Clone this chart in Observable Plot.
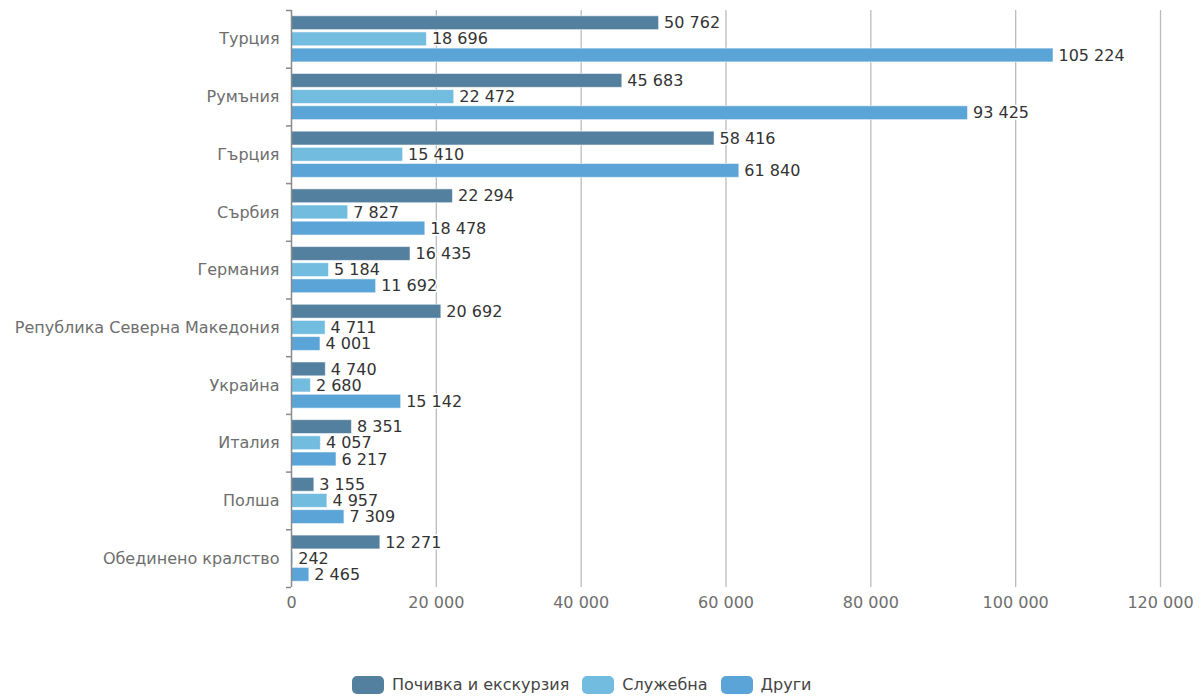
<!DOCTYPE html>
<html><head><meta charset="utf-8">
<script src="https://cdn.jsdelivr.net/npm/d3@7"></script>
<script src="https://cdn.jsdelivr.net/npm/@observablehq/plot@0.6"></script>
<style>
body{margin:0;background:#fff;font-family:"DejaVu Sans",sans-serif;}
#wrap{position:relative;width:1203px;height:699px;}
#legend{position:absolute;left:352px;top:675px;display:flex;align-items:center;font-size:16px;color:#444;white-space:nowrap;}
.item{display:flex;align-items:center;margin-right:13px;}
.sw{width:32px;height:18px;border-radius:5px;margin-right:8px;}
</style></head>
<body><div id="wrap"><div id="chart"></div><div id="legend"></div></div>
<script>
const countries = ["Турция","Румъния","Гърция","Сърбия","Германия","Република Северна Македония","Украйна","Италия","Полша","Обединено кралство"];
const seriesNames = ["Почивка и екскурзия","Служебна","Други"];
const leisure = [50762,45683,58416,22294,16435,20692,4740,8351,3155,12271];
const business = [18696,22472,15410,7827,5184,4711,2680,4057,4957,242];
const other = [105224,93425,61840,18478,11692,4001,15142,6217,7309,2465];
const xTicks = [0,20000,40000,60000,80000,100000,120000];
const colors = ["#54809f","#72bce0","#5aa4d7"];

const fmt = d3.formatLocale({thousands:"\u00a0", grouping:[3], decimal:","}).format(",d");
const values = [leisure, business, other];
const pad = 0.1, bh = 0.24, gap = 0.04;
const rows = [];
countries.forEach((c, i) => {
  values.forEach((arr, s) => {
    const y1 = i + pad + s * (bh + gap);
    rows.push({country: c, series: seriesNames[s], value: arr[i], y1, y2: y1 + bh, ym: y1 + bh / 2});
  });
});

const W = 1203, H = 640;
const chart = Plot.plot({
  width: W, height: H,
  marginLeft: 291, marginRight: 43, marginTop: 10, marginBottom: 53,
  style: {fontFamily: "DejaVu Sans, sans-serif", fontSize: "16px", background: "#fff"},
  x: {domain: [0, 120000], axis: null, label: null},
  y: {domain: [countries.length, 0], axis: null, label: null},
  color: {domain: seriesNames, range: colors},
  marks: [
    Plot.gridX({ticks: xTicks.slice(1), stroke: "#b8bcc2", strokeOpacity: 1, strokeWidth: 1.3}),
    Plot.axisX({ticks: xTicks, tickFormat: fmt, tickSize: 0, tickPadding: 9, fontSize: 16, fill: "#6e6e6e", label: null}),
    Plot.rect(rows, {x1: 0, x2: "value", y1: "y1", y2: "y2", fill: "series", stroke: "#fff", strokeOpacity: 0.55, strokeWidth: 1}),
    Plot.ruleX([0], {stroke: "#8a8a8a", strokeWidth: 1.5}),
    Plot.axisY({ticks: d3.range(0, countries.length + 1), tickFormat: () => "", tickSize: 5, stroke: "#8a8a8a", strokeWidth: 1.5, label: null}),
    Plot.text(countries, {x: 0, y: (d, i) => i + 0.5, text: d => d, textAnchor: "end", dx: -12, fill: "#6e6e6e", fontSize: 16}),
    Plot.text(rows, {x: "value", y: "ym", text: d => fmt(d.value), textAnchor: "start", dx: 5, fill: "#333", stroke: "#fff", strokeWidth: 3, fontSize: 16})
  ]
});
document.getElementById("chart").appendChild(chart);

const legend = document.getElementById("legend");
seriesNames.forEach((n, i) => {
  const it = document.createElement("div"); it.className = "item";
  const sw = document.createElement("div"); sw.className = "sw"; sw.style.background = colors[i];
  const t = document.createElement("span"); t.textContent = n;
  it.appendChild(sw); it.appendChild(t); legend.appendChild(it);
});
</script>
</body></html>
